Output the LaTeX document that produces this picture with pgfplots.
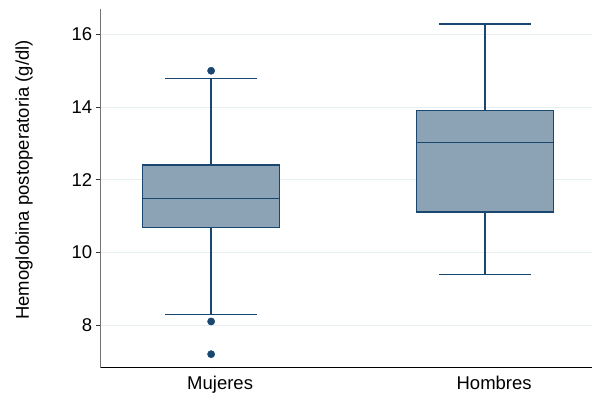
\documentclass[border=0pt]{standalone}
\usepackage{fontspec}
\setmainfont{Liberation Sans}
\usepackage{pgfplots}
\pgfplotsset{compat=1.18}
\usepgfplotslibrary{statistics}
\definecolor{navyc}{HTML}{1A476F}
\definecolor{boxfill}{HTML}{8CA3B6}
\definecolor{gridc}{HTML}{E6EEF0}
\begin{document}
\begin{tikzpicture}
\path[use as bounding box] (0,0) rectangle (592pt,393pt);
\begin{axis}[
  at={(100.7pt,25pt)}, anchor=south west,
  scale only axis, width=491.3pt, height=359pt,
  xmin=0.597, xmax=2.39, ymin=6.82, ymax=16.70,
  axis x line*=bottom, axis y line*=left,
  x axis line style={black, line width=1pt},
  y axis line style={black!55, line width=1.4pt},
  xtick={1,2}, xticklabels={Mujeres,Hombres},
  major x tick style={draw=none},
  ytick={8,10,12,14,16},
  major y tick style={black!80, line width=0.8pt},
  major tick length=5pt,
  tick align=outside,
  ymajorgrids, grid style={gridc, line width=1pt},
  tick label style={font=\fontsize{18.5}{22}\selectfont},
  xticklabel style={xshift=9pt},
  /pgf/number format/assume math mode=true,
  ylabel={Hemoglobina postoperatoria (g/dl)},
  ylabel style={at={(axis description cs:-0.156,0.524)}, anchor=center, font=\fontsize{18.5}{22}\selectfont},
  boxplot/draw direction=y,
  boxplot/draw/box/.code={%
    \draw[draw=navyc, fill=boxfill, line width=1.5pt]
      (boxplot box cs:\pgfplotsboxplotvalue{lower quartile},0) rectangle
      (boxplot box cs:\pgfplotsboxplotvalue{upper quartile},1);},
  boxplot/draw/median/.code={%
    \draw[draw=navyc, line width=1.5pt]
      (boxplot box cs:\pgfplotsboxplotvalue{median},0) --
      (boxplot box cs:\pgfplotsboxplotvalue{median},1);},
  boxplot/every whisker/.style={draw=navyc, line width=1.3pt},
]
\addplot+[boxplot prepared={draw position=1, lower whisker=8.30, lower quartile=10.69, median=11.49, upper quartile=12.40, upper whisker=14.79, box extend=0.5, whisker extend=0.336},
  solid, draw=navyc, fill=boxfill, line width=1.3pt, mark=*, mark size=3.6pt, mark options={solid, draw=navyc, fill=navyc, line width=0.5pt}]
  table[row sep=\\, y index=0] {15.0\\ 8.1\\ 7.2\\};
\addplot+[boxplot prepared={draw position=2, lower whisker=9.40, lower quartile=11.11, median=13.03, upper quartile=13.90, upper whisker=16.29, box extend=0.5, whisker extend=0.336},
  solid, draw=navyc, fill=boxfill, line width=1.3pt]
  coordinates {};
\end{axis}
\end{tikzpicture}
\end{document}
